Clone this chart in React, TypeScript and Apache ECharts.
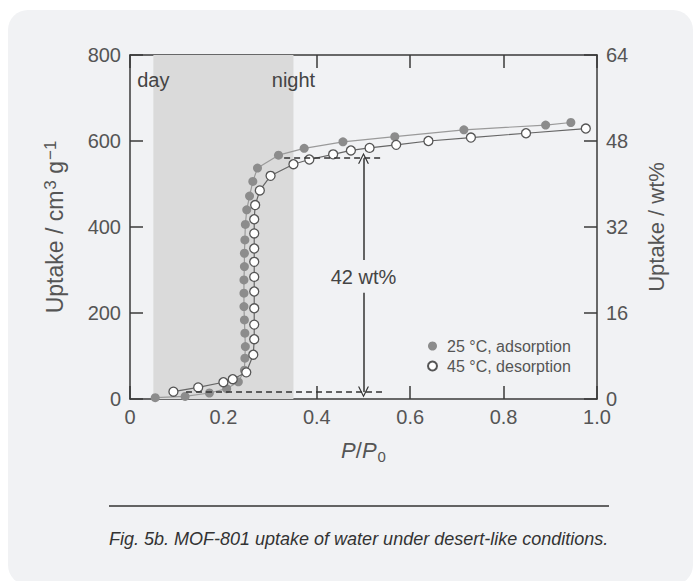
import React, { useEffect, useRef } from "react";
import * as echarts from "echarts";

// ---- data ----
const adsP = [0.054, 0.118, 0.17, 0.207, 0.232, 0.245, 0.246, 0.247, 0.246, 0.245, 0.244, 0.244, 0.244, 0.245, 0.245, 0.246, 0.247, 0.25, 0.256, 0.263, 0.273, 0.318, 0.373, 0.456, 0.567, 0.715, 0.89, 0.944];
const adsU = [3, 6, 14, 24, 40, 67, 95, 122, 153, 184, 215, 246, 277, 308, 339, 370, 406, 440, 472, 506, 537, 567, 583, 598, 610, 626, 637, 643];
const desP = [0.093, 0.146, 0.2, 0.22, 0.249, 0.264, 0.266, 0.266, 0.266, 0.266, 0.266, 0.266, 0.266, 0.266, 0.266, 0.268, 0.278, 0.301, 0.35, 0.384, 0.435, 0.473, 0.513, 0.57, 0.639, 0.73, 0.848, 0.976];
const desU = [17, 27, 39, 46, 62, 103, 139, 173, 211, 250, 284, 319, 350, 385, 418, 451, 485, 519, 546, 557, 569, 578, 584, 591, 600, 608, 618, 629];

const xTicks = [0, 0.2, 0.4, 0.6, 0.8, 1.0];
const leftTicks = [0, 200, 400, 600, 800];
const rightTicks = [0, 16, 32, 48, 64];

const seriesNames = ["25 °C, adsorption", "45 °C, desorption"];
const shadedRange = [0.05, 0.35];
const shadedLabels = ["day", "night"];
const labelUptake = 742;
const arrowP = 0.5;
const upperLevel = 560;
const lowerLevel = 16;
const dashUpper = [0.33, 0.54];
const dashLower = [0.12, 0.54];
const arrowGap = [247, 323];
const swingLabel = "42 wt%";
const swingLabelUptake = 284;
const caption = "Fig. 5b. MOF-801 uptake of water under desert-like conditions.";

const FONT = "'Liberation Sans', Arial, Helvetica, sans-serif";
const AXIS_COLOR = "#3a3a3a";
const TEXT_COLOR = "#555";

const chevron = "path://M0,10 L5,0 L10,10 L8.8,10 L5,2.4 L1.2,10 Z";

export default function App() {
  const ref = useRef<HTMLDivElement>(null);

  useEffect(() => {
    if (!ref.current) return;
    const chart = echarts.init(ref.current, undefined, { renderer: "svg" });

    const ads = adsP.map((p, i) => [p, adsU[i]]);
    const des = desP.map((p, i) => [p, desU[i]]);

    const axisLine = { show: true, onZero: false, lineStyle: { color: AXIS_COLOR, width: 1.5 } };
    const axisTick = { show: true, inside: true, length: 13, lineStyle: { color: AXIS_COLOR, width: 1.5 } };

    const option: any = {
      animation: false,
      textStyle: { fontFamily: FONT },
      graphic: [
        {
          type: "rect",
          left: 8,
          top: 10,
          shape: { width: 685, height: 575, r: 20 },
          style: { fill: "#f1f2f4" },
          z: -10,
          silent: true,
        },
        {
          type: "line",
          shape: { x1: 109, y1: 506, x2: 609, y2: 506 },
          style: { stroke: "#333", lineWidth: 1.5 },
          silent: true,
        },
        {
          type: "text",
          x: 109,
          y: 539,
          style: {
            text: caption,
            font: `italic 18px ${FONT}`,
            fill: "#333",
            verticalAlign: "middle",
            align: "left",
          },
          silent: true,
        },
      ],
      legend: {
        orient: "vertical",
        left: 422,
        top: 333,
        itemGap: 4,
        itemWidth: 9,
        itemHeight: 9,
        icon: "circle",
        textStyle: { color: TEXT_COLOR, fontSize: 16, fontFamily: FONT, padding: [0, 0, 0, 5] },
        data: seriesNames,
      },
      grid: { left: 130, right: 100, top: 55, bottom: 182 },
      xAxis: [
        {
          type: "value",
          position: "bottom",
          min: xTicks[0],
          max: xTicks[xTicks.length - 1],
          interval: 0.2,
          axisLine,
          axisTick,
          splitLine: { show: false },
          axisLabel: {
            color: TEXT_COLOR,
            fontSize: 20,
            margin: 8,
            formatter: (v: number) => (v === 0 ? "0" : v.toFixed(1)),
          },
          name: "{i|P}{n|/}{i|P}{s|0}",
          nameLocation: "middle",
          nameGap: 38,
          nameTextStyle: {
            rich: {
              i: { fontStyle: "italic", fontSize: 22, lineHeight: 26, color: TEXT_COLOR, fontFamily: FONT },
              n: { fontSize: 22, lineHeight: 26, color: TEXT_COLOR, fontFamily: FONT },
              s: { fontSize: 15, lineHeight: 15, color: TEXT_COLOR, fontFamily: FONT, padding: [12, 0, 0, 1], verticalAlign: "top" },
            },
          },
        },
        {
          type: "value",
          position: "top",
          min: xTicks[0],
          max: xTicks[xTicks.length - 1],
          interval: 0.2,
          axisLine,
          axisTick,
          splitLine: { show: false },
          axisLabel: { show: false },
        },
      ],
      yAxis: [
        {
          type: "value",
          position: "left",
          min: leftTicks[0],
          max: leftTicks[leftTicks.length - 1],
          interval: 200,
          axisLine,
          axisTick,
          splitLine: { show: false },
          axisLabel: { color: TEXT_COLOR, fontSize: 20, margin: 9 },
          name: "{a|Uptake / cm}{s|3}{a| g}{s|−1}",
          nameLocation: "middle",
          nameGap: 62,
          nameRotate: 90,
          nameTextStyle: {
            rich: {
              a: { fontSize: 23, lineHeight: 26, color: TEXT_COLOR, fontFamily: FONT },
              s: { fontSize: 17, lineHeight: 17, color: TEXT_COLOR, fontFamily: FONT, padding: [0, 0, 9, 1], verticalAlign: "top" },
            },
          },
        },
        {
          type: "value",
          position: "right",
          min: rightTicks[0],
          max: rightTicks[rightTicks.length - 1],
          interval: 16,
          axisLine,
          axisTick,
          splitLine: { show: false },
          axisLabel: { color: TEXT_COLOR, fontSize: 20, margin: 9 },
          name: "Uptake / wt%",
          nameLocation: "middle",
          nameGap: 48,
          nameRotate: 90,
          nameTextStyle: { fontSize: 22, color: TEXT_COLOR, fontFamily: FONT },
        },
      ],
      series: [
        {
          name: seriesNames[0],
          type: "line",
          xAxisIndex: 0,
          yAxisIndex: 0,
          data: ads,
          symbol: "circle",
          symbolSize: 9,
          itemStyle: { color: "#8c8c8c", borderWidth: 0 },
          lineStyle: { color: "#9a9a9a", width: 1.2 },
          z: 3,
          markArea: {
            silent: true,
            itemStyle: { color: "#dadada" },
            data: [[{ xAxis: shadedRange[0] }, { xAxis: shadedRange[1] }]],
          },
          markPoint: {
            silent: true,
            symbol: "circle",
            symbolSize: 0,
            label: {
              show: true,
              position: "inside",
              color: "#444",
              fontSize: 20,
              fontFamily: FONT,
              formatter: (p: any) => p.name,
            },
            data: [
              { name: shadedLabels[0], coord: [shadedRange[0], labelUptake] },
              { name: shadedLabels[1], coord: [shadedRange[1], labelUptake] },
              { name: swingLabel, coord: [arrowP, swingLabelUptake] },
            ],
          },
        },
        {
          name: seriesNames[1],
          type: "line",
          xAxisIndex: 0,
          yAxisIndex: 0,
          data: des,
          symbol: "circle",
          symbolSize: 9,
          itemStyle: { color: "#ffffff", borderColor: "#555", borderWidth: 1.3 },
          lineStyle: { color: "#666", width: 1.2 },
          z: 4,
          markLine: {
            silent: true,
            symbol: ["none", "none"],
            label: { show: false },
            lineStyle: { color: "#333", width: 1.5, type: "solid" },
            data: [
              [
                { coord: [dashUpper[0], upperLevel], lineStyle: { type: [6, 4], color: "#333", width: 1.5 } },
                { coord: [dashUpper[1], upperLevel] },
              ],
              [
                { coord: [dashLower[0], lowerLevel], lineStyle: { type: [6, 4], color: "#333", width: 1.5 } },
                { coord: [dashLower[1], lowerLevel] },
              ],
              [
                { coord: [arrowP, arrowGap[1]], symbol: "none" },
                { coord: [arrowP, upperLevel], symbol: chevron, symbolSize: [11, 11] },
              ],
              [
                { coord: [arrowP, arrowGap[0]], symbol: "none" },
                { coord: [arrowP, lowerLevel], symbol: chevron, symbolSize: [11, 11] },
              ],
            ],
          },
        },
      ],
    };

    chart.setOption(option);
    return () => chart.dispose();
  }, []);

  return (
    <div
      ref={ref}
      style={{ position: "fixed", left: 0, top: 0, width: 697, height: 581, background: "#ffffff" }}
    />
  );
}
